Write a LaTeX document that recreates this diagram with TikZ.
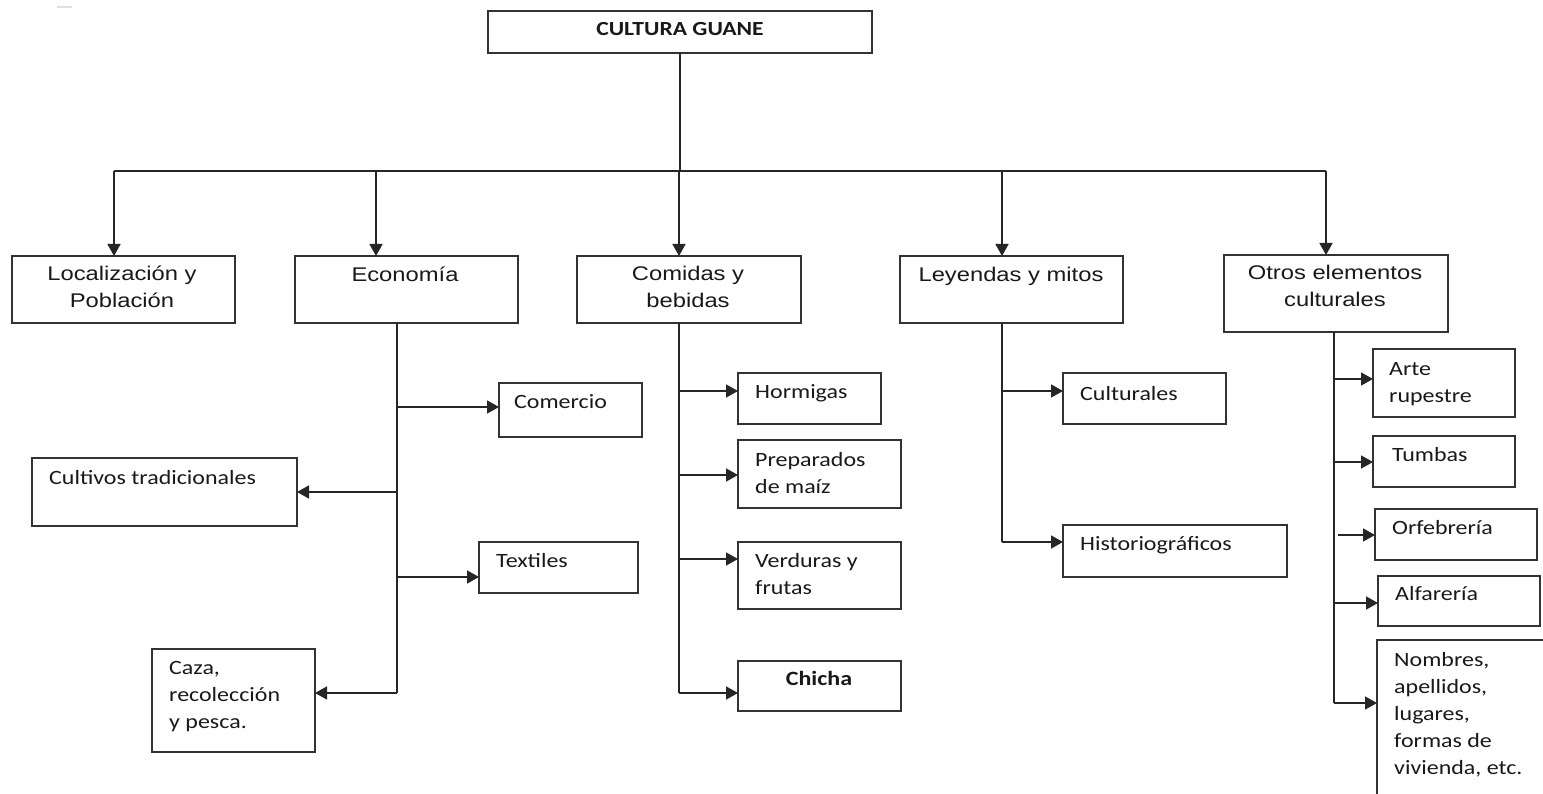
\documentclass[tikz,border=0pt]{standalone}
\usepackage{fontspec}
\usetikzlibrary{arrows.meta}
\newfontfamily\arialf{Liberation Sans}[FakeStretch=1.2]
\newfontfamily\calf{Carlito}[FakeStretch=1.18]
\newcommand\LinesL[1]{\vtop{\baselineskip=27.2pt\lineskiplimit=-10pt\halign{##\hfil\cr#1\crcr}}}
\newcommand\LinesC[1]{\vtop{\baselineskip=27pt\lineskiplimit=-10pt\halign{\hfil##\hfil\cr#1\crcr}}}
\tikzset{
  box/.style={draw=black!80, line width=1.5pt, anchor=north west, inner sep=0pt, outer sep=0pt},
  arr/.style={draw=black!85, line width=1.6pt, -{Triangle[length=12pt,width=13pt]}},
  ln/.style={draw=black!85, line width=1.6pt},
  ttl/.style={font=\arialf\fontsize{19.8}{27.5}\selectfont, text=black!90, inner sep=0pt, anchor=base},
  sub/.style={font=\calf\fontsize{20.3}{27.3}\selectfont, text=black!90, inner sep=0pt, anchor=base west},
}
\begin{document}
\begin{tikzpicture}[x=1pt,y=-1pt]
\useasboundingbox (0,0) rectangle (1543,794);
\clip (0,0) rectangle (1543,794);
\fill[white] (0,0) rectangle (1543,794);
\draw[gray!25, line width=2pt] (57,7) -- (72,7);

% boxes
\node[box, minimum width=384pt, minimum height=42pt] (root) at (488,11) {};
\node[box, minimum width=223pt, minimum height=67pt] (loc) at (12,256) {};
\node[box, minimum width=223pt, minimum height=67pt] (eco) at (295,256) {};
\node[box, minimum width=224pt, minimum height=67pt] (com) at (577,256) {};
\node[box, minimum width=223pt, minimum height=67pt] (ley) at (900,256) {};
\node[box, minimum width=224pt, minimum height=77pt] (otr) at (1224,255) {};

\node[box, minimum width=143pt, minimum height=54pt] (comer) at (499,383) {};
\node[box, minimum width=265pt, minimum height=68pt] (cult) at (32,458) {};
\node[box, minimum width=159pt, minimum height=51pt] (text) at (479,542) {};
\node[box, minimum width=163pt, minimum height=103pt] (caza) at (152,649) {};

\node[box, minimum width=143pt, minimum height=51pt] (horm) at (738,373) {};
\node[box, minimum width=163pt, minimum height=68pt] (prep) at (738,440) {};
\node[box, minimum width=163pt, minimum height=67pt] (verd) at (738,542) {};
\node[box, minimum width=163pt, minimum height=50pt] (chic) at (738,661) {};

\node[box, minimum width=163pt, minimum height=51pt] (cultu) at (1063,373) {};
\node[box, minimum width=224pt, minimum height=52pt] (hist) at (1063,525) {};

\node[box, minimum width=142pt, minimum height=68pt] (arte) at (1373,349) {};
\node[box, minimum width=142pt, minimum height=51pt] (tumb) at (1373,436) {};
\node[box, minimum width=162pt, minimum height=51pt] (orfe) at (1375,509) {};
\node[box, minimum width=162pt, minimum height=50pt] (alfa) at (1378,576) {};
\node[box, minimum width=220pt, minimum height=220pt] (nomb) at (1377,640) {};

% texts
\node[ttl, font=\calf\bfseries\fontsize{20}{24}\selectfont] (troot) at (680,35.7) {CULTURA GUANE};
\node[ttl] (tloc) at (122,281) {\LinesC{Localización y\cr Población}};
\node[ttl] (teco) at (405,282) {Economía};
\node[ttl] (tcom) at (688,281) {\LinesC{Comidas y\cr bebidas}};
\node[ttl] (tley) at (1011,282) {Leyendas y mitos};
\node[ttl] (totr) at (1335,279.5) {\LinesC{Otros elementos\cr culturales}};

\node[sub] (tcomer) at (514,409) {Comercio};
\node[sub] (tcult) at (49,484) {Cultivos tradicionales};
\node[sub] (ttext) at (496,567) {Textiles};
\node[sub] (tcaza) at (169,674.3) {\LinesL{Caza,\cr recolección\cr y pesca.}};

\node[sub] (thorm) at (755,399) {Hormigas};
\node[sub] (tprep) at (755,466.5) {\LinesL{Preparados\cr de maíz}};
\node[sub] (tverd) at (755,567.5) {\LinesL{Verduras y\cr frutas}};
\node[sub, anchor=base, font=\calf\bfseries\fontsize{20.3}{27.3}\selectfont] (tchic) at (819,685) {Chicha};

\node[sub] (tcultu) at (1080,400) {Culturales};
\node[sub] (thist) at (1080,550.5) {Historiográficos};

\node[sub] (tarte) at (1389,375.7) {\LinesL{Arte\cr rupestre}};
\node[sub] (ttumb) at (1392,461) {Tumbas};
\node[sub] (torfe) at (1392,534) {Orfebrería};
\node[sub] (talfa) at (1395,600) {Alfarería};
\node[sub] (tnomb) at (1394,666) {\LinesL{Nombres,\cr apellidos,\cr lugares,\cr formas de\cr vivienda, etc.}};

% top-level connectors
\coordinate (bus) at (680,171);
\coordinate (b1) at (114,171);
\coordinate (b2) at (376,171);
\coordinate (b3) at (679,171);
\coordinate (b4) at (1002,171);
\coordinate (b5) at (1326,171);
\draw[ln] (root.south -| bus) -- (bus);
\draw[ln] (b1) -- (b5);
\draw[arr] (b1) -- (b1 |- loc.north);
\draw[arr] (b2) -- (b2 |- eco.north);
\draw[arr] (b3) -- (b3 |- com.north);
\draw[arr] (b4) -- (b4 |- ley.north);
\draw[arr] (b5) -- (b5 |- otr.north);

% Economia
\coordinate (eT) at (397,323);
\coordinate (e1) at (397,407);
\coordinate (e2) at (397,492);
\coordinate (e3) at (397,577);
\coordinate (e4) at (397,693);
\draw[ln] (eT |- eco.south) -- (e4);
\draw[arr] (e1) -- (e1 -| comer.west);
\draw[arr] (e2) -- (e2 -| cult.east);
\draw[arr] (e3) -- (e3 -| text.west);
\draw[arr] (e4) -- (e4 -| caza.east);

% Comidas
\coordinate (cT) at (679,323);
\coordinate (c1) at (679,391);
\coordinate (c2) at (679,475);
\coordinate (c3) at (679,559);
\coordinate (c4) at (679,693);
\draw[ln] (cT |- com.south) -- (c4);
\draw[arr] (c1) -- (c1 -| horm.west);
\draw[arr] (c2) -- (c2 -| prep.west);
\draw[arr] (c3) -- (c3 -| verd.west);
\draw[arr] (c4) -- (c4 -| chic.west);

% Leyendas
\coordinate (lT) at (1002,323);
\coordinate (l1) at (1002,391);
\coordinate (l2) at (1002,542);
\draw[ln] (lT |- ley.south) -- (l2);
\draw[arr] (l1) -- (l1 -| cultu.west);
\draw[arr] (l2) -- (l2 -| hist.west);

% Otros
\coordinate (oT) at (1334,332);
\coordinate (o1) at (1334,379);
\coordinate (o2) at (1334,462);
\coordinate (o3) at (1338,535);
\coordinate (o4) at (1334,603);
\coordinate (o5) at (1334,703);
\draw[ln] (oT |- otr.south) -- (o5);
\draw[arr] (o1) -- (o1 -| arte.west);
\draw[arr] (o2) -- (o2 -| tumb.west);
\draw[arr] (o3) -- (o3 -| orfe.west);
\draw[arr] (o4) -- (o4 -| alfa.west);
\draw[arr] (o5) -- (o5 -| nomb.west);
\end{tikzpicture}
\end{document}
